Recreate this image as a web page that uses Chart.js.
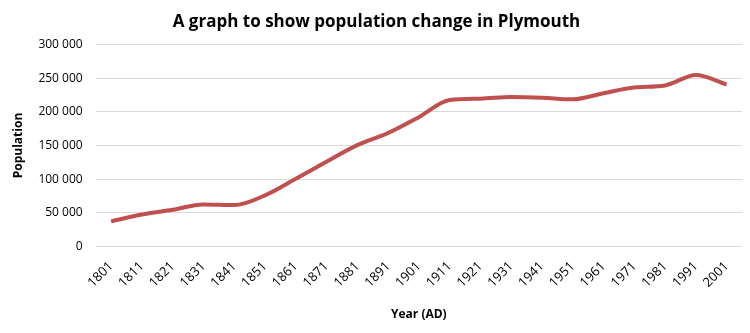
<!DOCTYPE html>
<html>
<head>
<meta charset="utf-8">
<script src="https://cdn.jsdelivr.net/npm/chart.js@4.4.0/dist/chart.umd.min.js"></script>
<style>
  html, body { margin: 0; padding: 0; background: #fff; }
  #wrap { width: 750px; height: 333px; }
</style>
</head>
<body>
<div id="wrap"><canvas id="popChart"></canvas></div>
<script>
// données
var years = ["1801", "1811", "1821", "1831", "1841", "1851", "1861", "1871", "1881", "1891", "1901",
  "1911", "1921", "1931", "1941", "1951", "1961", "1971", "1981", "1991", "2001"];
var population = [37500, 47500, 54500, 62500, 61500, 76000, 100500, 126000, 150500, 168500, 192000,
  217500, 219500, 222000, 221000, 218500, 227500, 236000, 239000, 254500, 240500];
var yTicks = [0, 50000, 100000, 150000, 200000, 250000, 300000];

// format "300 000"
function formatNombre(v) {
  if (v === 0) return "0";
  return String(v).replace(/\B(?=(\d{3})+(?!\d))/g, " ");
}

var police = "'Open Sans', 'Liberation Sans', sans-serif";

var ctx = document.getElementById("popChart").getContext("2d");
var myChart = new Chart(ctx, {
  type: "line",
  data: {
    labels: years,
    datasets: [
      {
        data: population,
        borderColor: "#C0504D",
        backgroundColor: "#C0504D",
        borderWidth: 4,
        pointRadius: 0,
        tension: 0.4,
        cubicInterpolationMode: "monotone",
        fill: false,
      },
    ],
  },
  options: {
    responsive: true,
    maintainAspectRatio: false,
    animation: false,
    layout: { padding: { left: 11, right: 8, top: 8, bottom: 11 } },
    plugins: {
      legend: { display: false },
      tooltip: { enabled: false },
      title: {
        display: true,
        text: "A graph to show population change in Plymouth",
        color: "#000",
        font: { family: police, size: 17, weight: "bold" },
        padding: { top: 4, bottom: 12 },
      },
    },
    scales: {
      x: {
        offset: true,
        grid: { display: false, drawTicks: false },
        border: { display: false },
        ticks: {
          color: "#000",
          font: { family: police, size: 13 },
          maxRotation: 45,
          minRotation: 45,
          autoSkip: false,
          padding: 12,
        },
        title: {
          display: true,
          text: "Year (AD)",
          color: "#000",
          font: { family: police, size: 12, weight: "bold" },
          padding: { top: 5, bottom: 0 },
        },
      },
      y: {
        min: 0,
        max: 300000,
        afterBuildTicks: function (axis) {
          axis.ticks = yTicks.map(function (v) { return { value: v }; });
        },
        grid: { color: "#D9D9D9", lineWidth: 1, drawTicks: false },
        border: { display: false },
        ticks: {
          color: "#000",
          font: { family: police, size: 12 },
          padding: 13,
          callback: function (value) { return formatNombre(value); },
        },
        title: {
          display: true,
          text: "Population",
          color: "#000",
          font: { family: police, size: 12, weight: "bold" },
          padding: { top: 0, bottom: 0 },
        },
      },
    },
  },
});
</script>
</body>
</html>
